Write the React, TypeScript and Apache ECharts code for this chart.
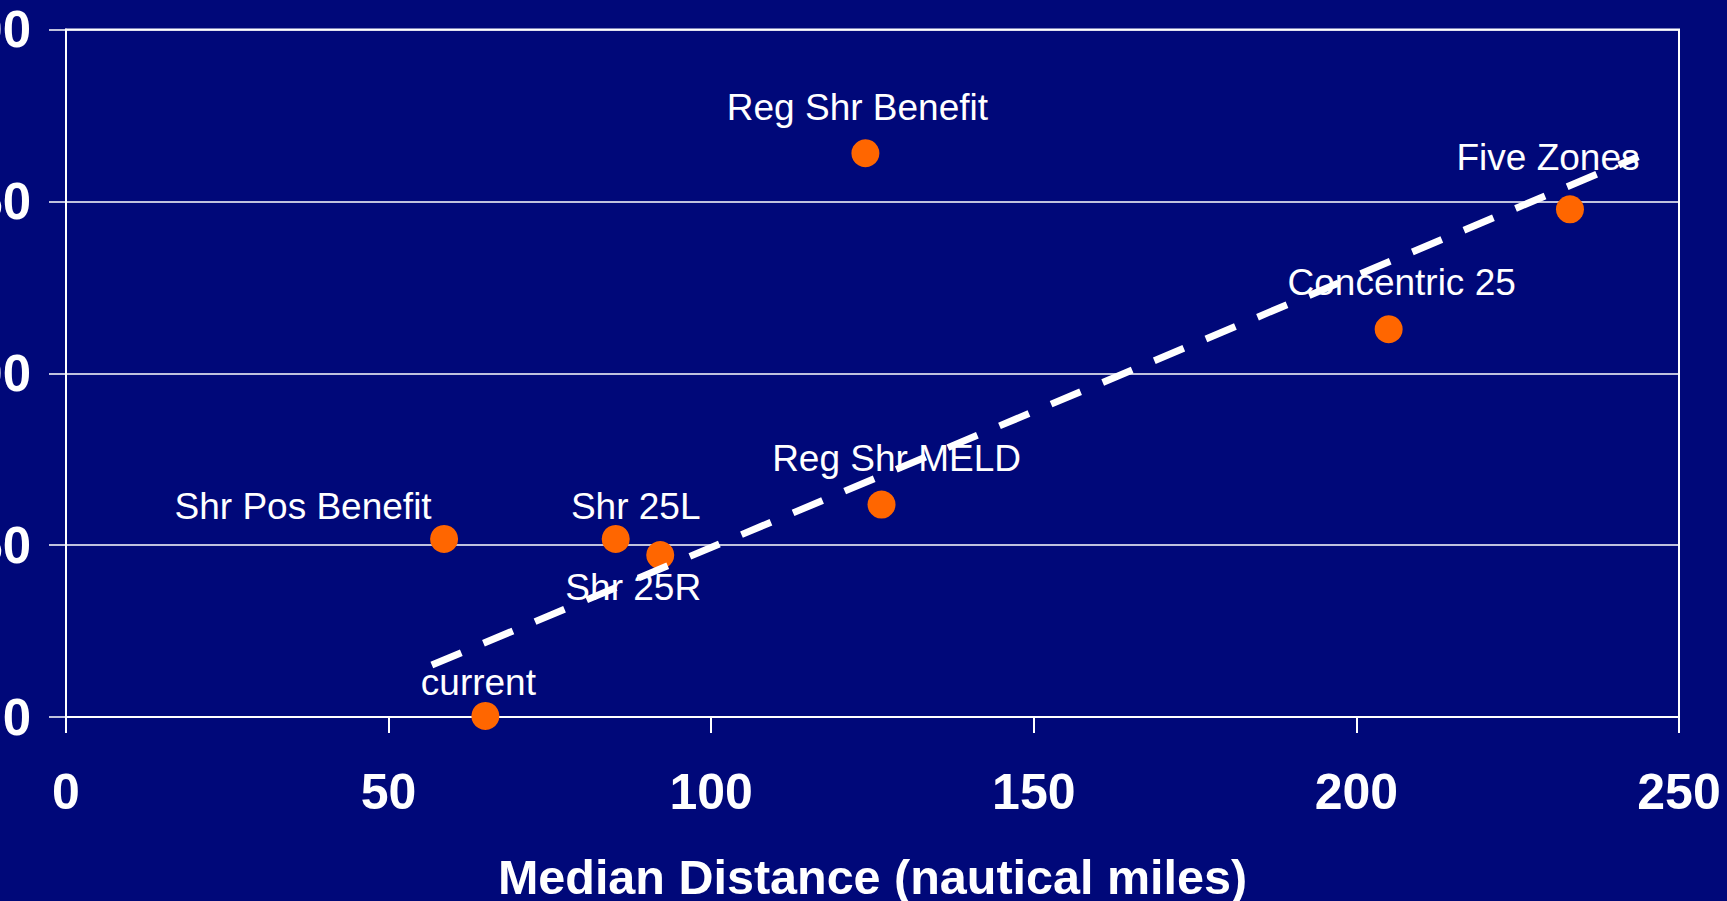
import React, { useEffect, useRef } from "react";
import * as echarts from "echarts";

const pointNames = [
  "current",
  "Shr Pos Benefit",
  "Shr 25L",
  "Shr 25R",
  "Reg Shr MELD",
  "Reg Shr Benefit",
  "Concentric 25",
  "Five Zones",
];
const medianDistance = [65.0, 58.6, 85.2, 92.1, 126.4, 123.9, 205.0, 233.1];
const yValues = [0.3, 51.8, 51.8, 47.1, 61.8, 164.0, 112.8, 147.7];

// trend line end points
const trendX = [56.7, 243.7];
const trendY = [15.1, 163.0];

const xTicks = [0, 50, 100, 150, 200, 250];
const yTicks = [0, 50, 100, 150, 200];

// label placement (pixels, relative to marker centre)
const labelOffsets: [number, number][] = [
  [-7, -33],
  [-141, -32],
  [20, -32],
  [-27, 32],
  [15, -46],
  [-8, -46],
  [13, -47],
  [-22, -52],
];

const FONT = "'Liberation Sans', Arial, Helvetica, sans-serif";

export default function App() {
  const ref = useRef<HTMLDivElement>(null);

  useEffect(() => {
    document.body.style.margin = "0";
    const chart = echarts.init(ref.current!, undefined, { renderer: "svg" });
    const scatterData = pointNames.map((n, i) => ({
      name: n,
      value: [medianDistance[i], yValues[i]],
      label: { offset: labelOffsets[i] },
    }));
    chart.setOption({
      animation: false,
      backgroundColor: "#000879",
      grid: {
        left: 66,
        right: 48,
        top: 29.5,
        bottom: 184,
        containLabel: false,
        outerBoundsMode: "none",
        show: true,
        borderColor: "#ffffff",
        borderWidth: 2,
        backgroundColor: "transparent",
      },
      xAxis: {
        type: "value",
        min: xTicks[0],
        max: xTicks[xTicks.length - 1],
        interval: 50,
        name: "Median Distance (nautical miles)",
        nameLocation: "middle",
        nameGap: 135,
        nameTextStyle: {
          color: "#ffffff",
          fontSize: 48.5,
          fontWeight: "bold",
          fontFamily: FONT,
        },
        axisLine: { show: true, lineStyle: { color: "#ffffff", width: 2 } },
        axisTick: { show: true, length: 16, lineStyle: { color: "#ffffff", width: 2 } },
        axisLabel: {
          color: "#ffffff",
          fontSize: 50,
          fontWeight: "bold",
          fontFamily: FONT,
          margin: 50,
        },
        splitLine: { show: false },
      },
      yAxis: {
        type: "value",
        min: yTicks[0],
        max: yTicks[yTicks.length - 1],
        interval: 50,
        axisLine: { show: true, lineStyle: { color: "#ffffff", width: 2 } },
        axisTick: { show: true, length: 17, lineStyle: { color: "#ffffff", width: 1.5 } },
        axisLabel: {
          color: "#ffffff",
          fontSize: 51,
          fontWeight: "bold",
          fontFamily: FONT,
          margin: 35,
        },
        splitLine: { show: true, lineStyle: { color: "#ffffff", width: 1.5 } },
      },
      series: [
        {
          type: "scatter",
          z: 2,
          symbol: "circle",
          symbolSize: 28,
          itemStyle: { color: "#ff6600", opacity: 1 },
          label: {
            show: true,
            position: "inside",
            formatter: "{b}",
            color: "#ffffff",
            opacity: 1,
            fontSize: 37,
            fontFamily: FONT,
          },
          data: scatterData,
        },
        {
          type: "line",
          z: 5,
          symbol: "none",
          silent: true,
          lineStyle: { color: "#ffffff", width: 7, type: [32, 24], opacity: 1 },
          data: trendX.map((x, i) => [x, trendY[i]]),
        },
      ],
    });
    return () => chart.dispose();
  }, []);

  return (
    <div
      ref={ref}
      style={{ position: "absolute", left: 0, top: 0, width: 1727, height: 901 }}
    />
  );
}
